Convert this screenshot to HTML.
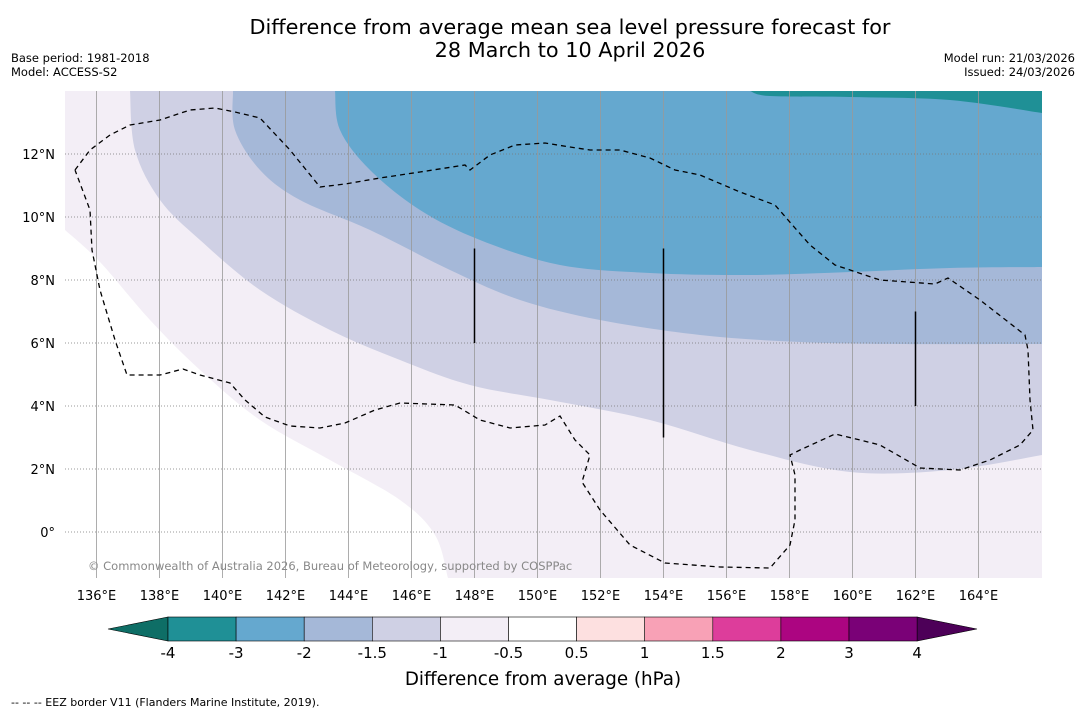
<!DOCTYPE html>
<html><head><meta charset="utf-8"><style>
body{margin:0;background:#fff;font-family:"Liberation Sans","DejaVu Sans",sans-serif;}
svg text{font-family:"DejaVu Sans","Liberation Sans",sans-serif;}
</style></head><body>
<svg id="chart" width="1085" height="713" xmlns="http://www.w3.org/2000/svg">
<rect width="1085" height="713" fill="#fff"/>
<text x="570" y="34" font-size="20.8" text-anchor="middle">Difference from average mean sea level pressure forecast for</text>
<text x="570" y="57" font-size="20.8" text-anchor="middle">28 March to 10 April 2026</text>
<text x="11" y="62" font-size="11.5">Base period: 1981-2018</text>
<text x="11" y="76" font-size="11.5">Model: ACCESS-S2</text>
<text x="1075" y="62" font-size="11.5" text-anchor="end">Model run: 21/03/2026</text>
<text x="1075" y="76" font-size="11.5" text-anchor="end">Issued: 24/03/2026</text>
<defs><clipPath id="pc"><rect x="65" y="91" width="977" height="487"/></clipPath></defs>
<g id="map" clip-path="url(#pc)"></g>
<g id="axes"></g>
<g id="cbar"></g>
<text x="543" y="685" font-size="18.3" text-anchor="middle">Difference from average (hPa)</text>
<text x="11" y="706" font-size="11">--  --  -- EEZ border V11 (Flanders Marine Institute, 2019).</text>
</svg>
<script>
// Colour levels (hPa) and colours
const levels=[-4,-3,-2,-1.5,-1,-0.5,0.5,1,1.5,2,3,4];
const colors=["#1f9096","#65a8cf","#a5b8d8","#cfd0e4","#f3eef6","#ffffff","#fde0e0","#f8a1b6","#dd3d9b","#ac0581","#7a0177"];
const lonTicks=[136,138,140,142,144,146,148,150,152,154,156,158,160,162,164];
const latTicks=[0,2,4,6,8,10,12];
// Contour boundaries [lon,lat]
const px=(x,y)=>[135+(x-65)/31.5,14-(y-91)/31.5];
const P=a=>a.map(p=>px(p[0],p[1]));
const whiteEdge=P([[65,230],[100,262],[150,320],[200,370],[260,420],[330,460],[400,500],[435,535],[448,578]]);
const c1=P([[130,91],[135,150],[160,200],[200,240],[260,290],[330,330],[400,360],[470,385],[550,400],[650,420],[750,450],[850,472],[950,470],[1042,455]]);
const c15=P([[233,91],[235,130],[260,170],[300,200],[370,230],[450,270],[520,300],[600,320],[700,335],[800,342],[900,344],[1042,344]]);
const c2=P([[335,91],[340,130],[370,170],[420,210],[480,240],[560,265],[650,273],[750,275],[850,272],[950,268],[1042,267]]);
const c3=P([[750,91],[770,96],[850,97],[950,100],[1042,113]]);
const eez=P([[75,170],[90,150],[110,135],[130,125],[160,120],[190,110],[215,108],[235,112],[260,118],[290,150],[320,187],[345,184],[380,178],[420,172],[465,165],[470,170],[490,155],[515,145],[545,143],[570,147],[590,150],[620,150],[650,158],[675,170],[700,175],[740,192],[775,205],[795,228],[810,245],[835,265],[880,280],[935,284],[948,278],[980,300],[1025,335],[1028,350],[1030,400],[1033,430],[1020,445],[990,460],[960,470],[920,468],[880,445],[860,440],[835,434],[800,450],[790,455],[795,475],[795,520],[790,545],[770,568],[720,567],[665,563],[630,545],[600,510],[582,482],[590,455],[575,440],[560,416],[545,425],[510,428],[480,420],[455,405],[400,403],[375,410],[345,423],[320,428],[290,426],[265,417],[245,400],[230,383],[200,375],[183,369],[160,375],[127,375],[115,340],[100,290],[92,250],[90,210],[75,170]]);
const blackLines=[[148,9,6],[154,9,3],[162,7,4]];
const X=l=>65+(l-135)*31.5, Y=l=>91+(14-l)*31.5;
const NS="http://www.w3.org/2000/svg";
function mk(tag,attrs,parent){const e=document.createElementNS(NS,tag);for(const k in attrs)e.setAttribute(k,attrs[k]);parent.appendChild(e);return e;}
const map=document.getElementById('map');
const pts=a=>a.map(p=>X(p[0]).toFixed(1)+","+Y(p[1]).toFixed(1)).join(" ");
function smooth(a){
 const q=a.map(p=>[X(p[0]),Y(p[1])]);
 let d="M"+q[0][0].toFixed(1)+","+q[0][1].toFixed(1);
 for(let i=0;i<q.length-1;i++){
  const p0=q[Math.max(0,i-1)],p1=q[i],p2=q[i+1],p3=q[Math.min(q.length-1,i+2)];
  const c1x=p1[0]+(p2[0]-p0[0])/6,c1y=p1[1]+(p2[1]-p0[1])/6,c2x=p2[0]-(p3[0]-p1[0])/6,c2y=p2[1]-(p3[1]-p1[1])/6;
  d+=` C${c1x.toFixed(1)},${c1y.toFixed(1)} ${c2x.toFixed(1)},${c2y.toFixed(1)} ${p2[0].toFixed(1)},${p2[1].toFixed(1)}`;
 }
 return d;
}
let e=mk('rect',{x:65,y:91,width:977,height:487,fill:colors[4]},map);


e=mk('path',{d:smooth(whiteEdge)+" L65,578 Z",fill:colors[5]},map);


e=mk('path',{d:smooth(c1)+" L1042,91 Z",fill:colors[3]},map);


e=mk('path',{d:smooth(c15)+" L1042,91 Z",fill:colors[2]},map);


e=mk('path',{d:smooth(c2)+" L1042,91 Z",fill:colors[1]},map);


e=mk('path',{d:smooth(c3)+" L1042,91 Z",fill:colors[0]},map);


const axes=document.getElementById('axes');
lonTicks.forEach(l=>{
 let g=mk('line',{x1:X(l),x2:X(l),y1:91,y2:578,stroke:"#999",'stroke-width':0.8},map);
 
 
 let t=mk('text',{x:X(l),y:600,'font-size':13,'text-anchor':'middle'},axes);t.textContent=l+"°E";
 
 
});
latTicks.forEach(l=>{
 let g=mk('line',{x1:65,x2:1042,y1:Y(l),y2:Y(l),stroke:"#777",'stroke-width':0.8,'stroke-dasharray':'1,2'},map);
 
 
 let t=mk('text',{x:55,y:Y(l)+5,'font-size':13,'text-anchor':'end'},axes);t.textContent=l===0?"0°":l+"°N";
 
 
});
e=mk('polyline',{points:pts(eez),fill:"none",stroke:"#000",'stroke-width':1.3,'stroke-dasharray':'5,4'},map);


blackLines.forEach(b=>{
 let l=mk('line',{x1:X(b[0]),x2:X(b[0]),y1:Y(b[1]),y2:Y(b[2]),stroke:"#000",'stroke-width':1.5},map);
 
 
});
let ct=mk('text',{x:88,y:570,'font-size':11.5,fill:"#888"},map);ct.textContent="© Commonwealth of Australia 2026, Bureau of Meteorology, supported by COSPPac";


// colorbar
const cb=document.getElementById('cbar');
const cx0=168,cw=68.1,cy=617,ch=24;
mk('polygon',{points:`108,${cy+ch/2} ${cx0},${cy} ${cx0},${cy+ch}`,fill:"#0e6e66",stroke:"#000",'stroke-width':0.6},cb);
mk('polygon',{points:`977,${cy+ch/2} ${cx0+11*cw},${cy} ${cx0+11*cw},${cy+ch}`,fill:"#4d0058",stroke:"#000",'stroke-width':0.6},cb);
colors.forEach((c,i)=>{
 let r=mk('rect',{x:cx0+i*cw,y:cy,width:cw,height:ch,fill:c,stroke:"#000",'stroke-width':0.6},cb);
 
 
});
levels.forEach((v,i)=>{
 let t=mk('text',{x:cx0+i*cw,y:658,'font-size':15,'text-anchor':'middle'},cb);t.textContent=v;
 
 
});
</script>
</body></html>
